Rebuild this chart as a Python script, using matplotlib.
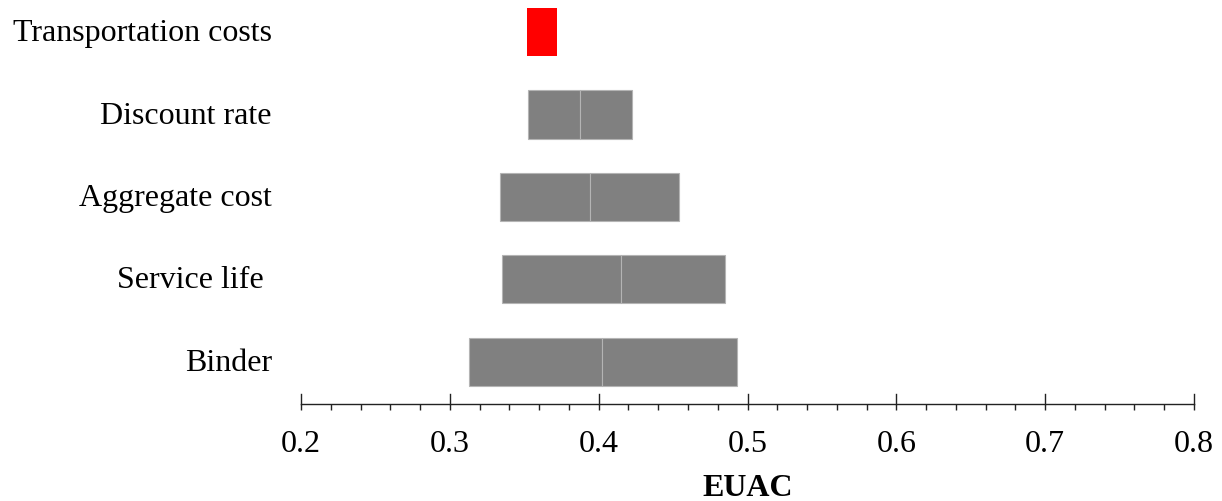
import matplotlib
matplotlib.use("Agg")
import matplotlib.pyplot as plt
from matplotlib.ticker import MultipleLocator
from matplotlib.transforms import blended_transform_factory, ScaledTranslation

# Sensitivity of EUAC to each input (low end, base value, high end)
factors = ["Binder", "Service life ", "Aggregate cost", "Discount rate", "Transportation costs"]
low_values = [0.313, 0.335, 0.334, 0.3525, 0.352]
base_values = [0.402, 0.415, 0.394, 0.3875, 0.372]
high_values = [0.493, 0.485, 0.454, 0.4225, 0.372]
bar_colors = ["#808080", "#808080", "#808080", "#808080", "#ff0000"]
x_ticks = [0.2, 0.3, 0.4, 0.5, 0.6, 0.7, 0.8]

plt.rcParams["font.family"] = ["Liberation Serif", "DejaVu Serif"]

W, H = 1222, 501
fig = plt.figure(figsize=(W / 100, H / 100), dpi=100)
left, right, bottom, top = 301, 1194, 404, 8
ax_h_px = bottom - top
ax = fig.add_axes([left / W, (H - bottom) / H, (right - left) / W, ax_h_px / H])

bar_h = 0.585
ypos = list(range(len(factors)))
for y, lo, mid, hi, c in zip(ypos, low_values, base_values, high_values, bar_colors):
    if c == "#ff0000":
        ax.barh(y, hi - lo, left=lo, height=bar_h, color=c, edgecolor="none")
    else:
        ax.barh(y, mid - lo, left=lo, height=bar_h, color=c, edgecolor="#b4b4b4", linewidth=0.8)
        ax.barh(y, hi - mid, left=mid, height=bar_h, color=c, edgecolor="#b4b4b4", linewidth=0.8)

ax.set_xlim(0.2, 0.8)
ax.set_ylim(-42 / 82, len(factors) - 1 + 24 / 82)

for s in ["top", "right", "left"]:
    ax.spines[s].set_visible(False)
ax.spines["bottom"].set_linewidth(1.0)
ax.spines["bottom"].set_color("#222222")

fs = 23
ax.set_yticks(ypos)
ax.set_yticklabels(factors, fontsize=fs)
ax.tick_params(axis="y", length=0, pad=21)
# nudge the category labels up slightly
shift = ScaledTranslation(0, 2 / 100, fig.dpi_scale_trans)
for lab in ax.get_yticklabels():
    lab.set_transform(lab.get_transform() + shift)

ax.set_xticks(x_ticks)
ax.set_xticklabels([f"{v:.1f}" for v in x_ticks], fontsize=fs)
ax.xaxis.set_minor_locator(MultipleLocator(0.02))
tick_len = 6 * 72 / 100
ax.tick_params(axis="x", which="major", direction="out", length=tick_len, width=1.0, color="#222222", pad=14.5)
ax.tick_params(axis="x", which="minor", direction="out", length=tick_len, width=1.0, color="#222222")

# major ticks also rise above the axis line
trans = blended_transform_factory(ax.transData, ax.transAxes)
for xv in x_ticks:
    ax.plot([xv, xv], [0, 10 / ax_h_px], color="#222222", lw=1.0, transform=trans, clip_on=False)

ax.set_xlabel("EUAC", fontsize=fs, fontweight="bold", labelpad=10.5)

fig.savefig("out.png", dpi=100)
